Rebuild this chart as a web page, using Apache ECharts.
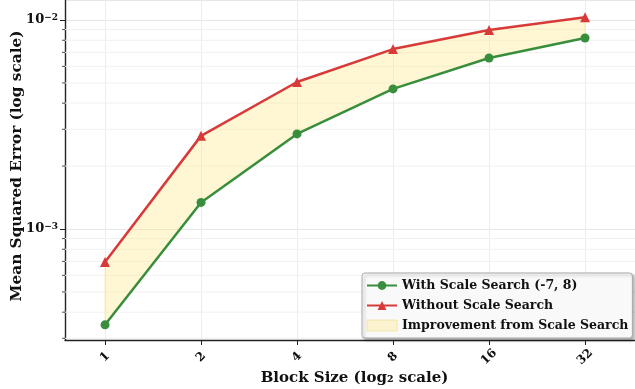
<!DOCTYPE html>
<html><head><meta charset="utf-8">
<script src="https://cdn.jsdelivr.net/npm/echarts@6/dist/echarts.min.js"></script>
<style>html,body{margin:0;padding:0;background:#fff}#c{width:635px;height:389px}</style>
</head><body><div id="c"></div>
<script>
const blockSizes = [1, 2, 4, 8, 16, 32];
const mseWithSearch = [3.48e-4, 1.34e-3, 2.85e-3, 4.68e-3, 6.58e-3, 8.2e-3];
const mseWithoutSearch = [6.95e-4, 2.79e-3, 5.05e-3, 7.26e-3, 8.96e-3, 1.03e-2];
const yMinorTicks = [3e-4, 4e-4, 5e-4, 6e-4, 7e-4, 8e-4, 9e-4, 2e-3, 3e-3, 4e-3, 5e-3, 6e-3, 7e-3, 8e-3, 9e-3];

const X_MIN = 0.749, X_MAX = 45.9;
const Y_MIN = 2.944e-4, Y_MAX = 0.012465;
const FONT = 'DejaVu Serif';
const GREEN = '#388E3C', RED = '#D83A3A';
const FILL = 'rgba(255,234,140,0.38)';

const chart = echarts.init(document.getElementById('c'));
chart.setOption({
  animation: false,
  backgroundColor: '#fff',
  grid: { left: 65, right: 0, top: 0, bottom: 49, containLabel: false, outerBoundsMode: 'none' },
  xAxis: {
    type: 'log', logBase: 2, min: X_MIN, max: X_MAX,
    name: 'Block Size (log₂ scale)', nameLocation: 'middle', nameGap: 31, nameMoveOverlap: false,
    nameTextStyle: { fontFamily: FONT, fontWeight: 'bold', fontSize: 15, color: '#111', padding: [0, 0, 0, 9] },
    axisLine: { lineStyle: { color: '#222', width: 1.4 } },
    axisTick: { length: 5, lineStyle: { color: '#222', width: 1 } },
    axisLabel: {
      rotate: 45, align: 'center', verticalAlign: 'middle', margin: 17,
      fontFamily: FONT, fontWeight: 'bold', fontSize: 12, color: '#111',
      showMinLabel: false, showMaxLabel: false,
      formatter: v => String(Math.round(v))
    },
    splitLine: { show: true, lineStyle: { color: '#ececec', width: 1 } }
  },
  yAxis: {
    type: 'log', logBase: 10, min: Y_MIN, max: Y_MAX,
    name: 'Mean Squared Error (log scale)', nameLocation: 'middle', nameGap: 40, nameMoveOverlap: false,
    nameTextStyle: { fontFamily: FONT, fontWeight: 'bold', fontSize: 15.3, color: '#111', padding: [0, 0, 0, 8] },
    axisLine: { show: true, lineStyle: { color: '#222', width: 1.4 } },
    axisTick: { show: true, length: 5, lineStyle: { color: '#222', width: 1 } },
    axisLabel: {
      margin: 7, color: '#111',
      showMinLabel: false, showMaxLabel: false,
      formatter: v => '{b|10}{s|−' + Math.abs(Math.round(Math.log10(v))) + '}',
      rich: {
        b: { fontFamily: FONT, fontWeight: 'bold', fontSize: 13, color: '#111' },
        s: { fontFamily: FONT, fontWeight: 'bold', fontSize: 9, color: '#111', padding: [0, 0, 5, 0] }
      }
    },
    splitLine: { show: true, lineStyle: { color: '#e6e6e6', width: 1 } }
  },
  legend: {
    orient: 'vertical', left: 362, top: 273,
    padding: [6, 4, 6, 4], itemGap: 7, itemWidth: 30, itemHeight: 11,
    backgroundColor: 'rgba(253,253,253,0.95)', borderColor: '#aaa', borderWidth: 1, borderRadius: 3,
    shadowBlur: 3, shadowColor: 'rgba(0,0,0,0.3)', shadowOffsetX: 2, shadowOffsetY: 2,
    textStyle: { fontFamily: FONT, fontWeight: 'bold', fontSize: 12.5, color: '#111' },
    data: [
      { name: 'With Scale Search (-7, 8)' },
      { name: 'Without Scale Search' },
      { name: 'Improvement from Scale Search', icon: 'rect', itemStyle: { color: FILL, borderColor: 'rgba(240,220,140,0.6)', borderWidth: 1 } }
    ]
  },
  series: [
    {
      name: 'minor-ticks', type: 'custom', silent: true, z: 1, clip: false,
      coordinateSystem: 'cartesian2d',
      data: yMinorTicks.map(v => [X_MIN, v]),
      renderItem: (params, api) => {
        const p = api.coord([X_MIN, api.value(1)]);
        const cs = params.coordSys;
        return { type: 'group', children: [
          { type: 'line', shape: { x1: cs.x, y1: p[1], x2: cs.x + cs.width, y2: p[1] },
            style: { stroke: '#f1f1f1', lineWidth: 1 } },
          { type: 'line', shape: { x1: cs.x - 3, y1: p[1], x2: cs.x, y2: p[1] },
            style: { stroke: '#222', lineWidth: 0.8 } }
        ]};
      }
    },
    {
      name: 'Improvement from Scale Search', type: 'custom', z: 2, silent: true,
      coordinateSystem: 'cartesian2d',
      itemStyle: { color: FILL },
      data: blockSizes.map((b, i) => [b, mseWithSearch[i], mseWithoutSearch[i]]),
      encode: { x: 0, y: [1, 2] },
      renderItem: (params, api) => {
        if (params.dataIndex !== 0) return;
        const top = blockSizes.map((b, i) => api.coord([b, mseWithoutSearch[i]]));
        const bot = blockSizes.map((b, i) => api.coord([b, mseWithSearch[i]])).reverse();
        return { type: 'polygon', shape: { points: top.concat(bot) },
          style: { fill: FILL, stroke: 'rgba(245,225,140,0.5)', lineWidth: 1 } };
      }
    },
    {
      name: 'With Scale Search (-7, 8)', type: 'line', z: 3,
      data: blockSizes.map((b, i) => [b, mseWithSearch[i]]),
      symbol: 'circle', symbolSize: 9,
      lineStyle: { color: GREEN, width: 2.5 }, itemStyle: { color: GREEN }
    },
    {
      name: 'Without Scale Search', type: 'line', z: 4,
      data: blockSizes.map((b, i) => [b, mseWithoutSearch[i]]),
      symbol: 'triangle', symbolSize: 10,
      lineStyle: { color: RED, width: 2.5 }, itemStyle: { color: RED }
    }
  ]
});
</script></body></html>
